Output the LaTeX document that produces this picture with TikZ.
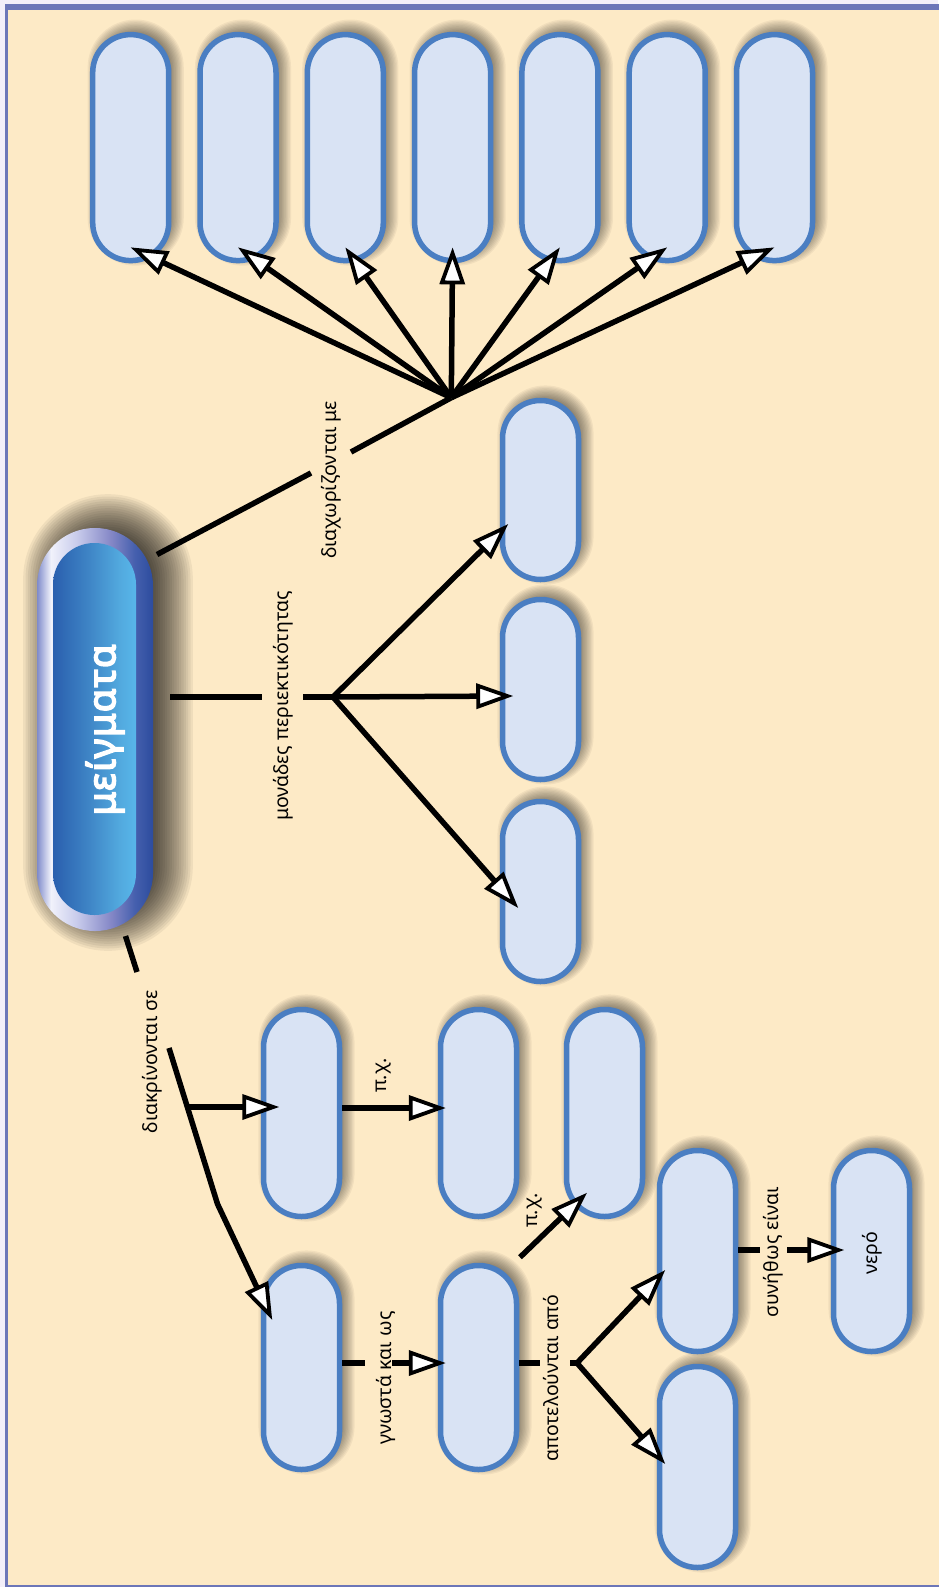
\documentclass[tikz,border=0pt]{standalone}
\usepackage{fontspec}
\newfontfamily\labfont{Noto Sans}
\newfontfamily\titlefont{Noto Sans}[FakeBold=4,LetterSpace=4]
\usetikzlibrary{arrows.meta,calc}

\definecolor{outerbg}{HTML}{F3EFF9}
\definecolor{framecol}{HTML}{6C76B8}
\definecolor{cream}{HTML}{FDEAC6}
\definecolor{pillfill}{HTML}{D9E3F4}
\definecolor{pillline}{HTML}{4A7EC2}
\definecolor{rimA}{HTML}{7F8BCB}
\definecolor{rimB}{HTML}{F1F2FB}
\definecolor{rimC}{HTML}{C9CCEC}
\definecolor{rimD}{HTML}{8487C6}
\definecolor{rimE}{HTML}{4660AE}
\definecolor{rimF}{HTML}{2C4C9E}
\definecolor{coreA}{HTML}{2A5FAE}
\definecolor{coreB}{HTML}{3D82C4}
\definecolor{coreC}{HTML}{52A9DE}
\definecolor{coreD}{HTML}{58B6EA}

\pgfdeclarehorizontalshading{rimshade}{100bp}{color(0bp)=(rimA); color(25bp)=(rimA); color(31bp)=(rimB); color(42bp)=(rimC); color(57bp)=(rimD); color(67bp)=(rimE); color(75bp)=(rimF); color(100bp)=(rimF)}
\pgfdeclarehorizontalshading{coreshade}{100bp}{color(0bp)=(coreA); color(25bp)=(coreA); color(45bp)=(coreB); color(65bp)=(coreC); color(75bp)=(coreD); color(100bp)=(coreD)}

\pgfdeclarelayer{paper}
\pgfdeclarelayer{shadelayer}
\pgfsetlayers{paper,shadelayer,main}

% soft drop shadow behind a stadium-shaped node:
% #1 node, #2 width, #3 height, #4 dx, #5 dy, #6 spread, #7 steps, #8 opacity per step
\newcommand\castshadow[8]{%
  \foreach \k in {1,...,#7}{%
    \pgfmathsetmacro\sx{#2/2+#6*(1-2*(\k-0.5)/#7)}%
    \pgfmathsetmacro\sy{#3/2+#6*(1-2*(\k-0.5)/#7)}%
    \pgfmathsetmacro\rr{\sx-0.05}%
    \fill[black, opacity=#8, rounded corners=\rr pt]
      ($(#1.center)+(#4-\sx,#5-\sy)$) rectangle ($(#1.center)+(#4+\sx,#5+\sy)$);
  }}

\begin{document}
\begin{tikzpicture}[x=1pt,y=-1pt,
  pill/.style={draw=pillline, line width=5.5pt, fill=pillfill, rounded corners=37.9pt,
    minimum width=76pt, inner sep=0pt},
  conn/.style={line width=5.5pt},
  arr/.style={conn, -{Triangle[length=37pt, width=25pt, fill=white, line width=3.8pt]}},
  lab/.style={rotate=90, font=\labfont\fontsize{19.5}{22}\selectfont, inner sep=0pt},
  labbox/.style={lab, fill=cream, rounded corners=5pt, inner xsep=8pt, inner ysep=5pt}]

\useasboundingbox (0,0) rectangle (938,1587);
% page, frame and paper
\begin{pgfonlayer}{paper}
\fill[outerbg] (0,0) rectangle (938,1587);
\fill[framecol] (4.7,4) rectangle (945,1592);
\fill[cream] (8,10) rectangle (945,1585.3);
\end{pgfonlayer}

% central concept
\node[shade, shading=rimshade, rounded corners=57.9pt, minimum width=116pt, minimum height=403pt, inner sep=0pt] (mg) at (95,729.5) {};
\node[shade, shading=coreshade, rounded corners=41.4pt, minimum width=83pt, minimum height=372pt, inner sep=0pt] (mgcore) at (94.5,729) {};
\node[rotate=90, text=white, font=\titlefont\fontsize{38}{44}\selectfont, inner sep=0pt] (mgtext) at (105,730) {μείγματα};

% separation methods row
\foreach \i in {1,...,7}
  \node[pill, minimum height=226pt] (t\i) at ({130.7+107.3*(\i-1)},147.6) {};

% concentration units
\node[pill, minimum height=179pt] (m1) at (540.5,490) {};
\node[pill, minimum height=180pt] (m2) at (540.5,689.5) {};
\node[pill, minimum height=180pt] (m3) at (540.5,891.5) {};

% kinds of mixtures
\node[pill, minimum height=207pt] (A) at (301.5,1113) {};
\node[pill, minimum height=204pt] (B) at (301.5,1367.5) {};
\node[pill, minimum height=207pt] (C) at (478.5,1113) {};
\node[pill, minimum height=204pt] (D) at (478.5,1367.5) {};
\node[pill, minimum height=207pt] (E) at (604.5,1113) {};
\node[pill, minimum height=201pt] (F) at (697.5,1251) {};
\node[pill, minimum height=201pt] (G) at (697.5,1467) {};
\node[pill, minimum height=201pt] (H) at (871.5,1251) {};

% shadows under all boxes
\begin{pgfonlayer}{shadelayer}
\castshadow{mg}{116}{403}{13}{-7}{28}{24}{0.055}
\foreach \i in {1,...,7} {\castshadow{t\i}{81.5}{231.5}{5}{-5}{8}{12}{0.048}}
\castshadow{m1}{81.5}{184.5}{5}{-5}{8}{12}{0.048}
\castshadow{m2}{81.5}{185.5}{5}{-5}{8}{12}{0.048}
\castshadow{m3}{81.5}{185.5}{5}{-5}{8}{12}{0.048}
\castshadow{A}{81.5}{212.5}{5}{-5}{8}{12}{0.048}
\castshadow{B}{81.5}{209.5}{5}{-5}{8}{12}{0.048}
\castshadow{C}{81.5}{212.5}{5}{-5}{8}{12}{0.048}
\castshadow{D}{81.5}{209.5}{5}{-5}{8}{12}{0.048}
\castshadow{E}{81.5}{212.5}{5}{-5}{8}{12}{0.048}
\castshadow{F}{81.5}{206.5}{5}{-5}{8}{12}{0.048}
\castshadow{G}{81.5}{206.5}{5}{-5}{8}{12}{0.048}
\castshadow{H}{81.5}{206.5}{5}{-5}{8}{12}{0.048}
\end{pgfonlayer}

% link labels
\node[lab] (l1) at (331,480) {διαχωρίζονται με};
\node[lab] (l2) at (283.5,706) {μονάδες περιεκτικότητας};
\node[lab] (l3) at (152,1062) {διακρίνονται σε};
\node[lab] (l4) at (383.5,1075.5) {π.χ.};
\node[labbox] (l5) at (386,1378) {γνωστά και ως};
\node[lab] (l6) at (534.5,1210.5) {π.χ.};
\node[labbox] (l7) at (551,1378) {αποτελούνται από};
\node[labbox] (l8) at (773,1252) {συνήθως είναι};
\node[lab] (l9) at (872,1253) {νερό};

% connectors: separation methods
\coordinate (s1) at (157,554.5);
\coordinate (g1a) at (311,473);
\coordinate (g1b) at (351,452);
\coordinate (h1) at (451.3,397.7);
\draw[conn] (s1) -- (g1a) (g1b) -- (h1);
\foreach \i in {1,...,7}
  \draw[arr] (h1) -- ($(t\i.south)+(0,-16)$);

% connectors: concentration units
\coordinate (s2) at (170,697);
\coordinate (g2a) at (262,697);
\coordinate (g2b) at (303,697);
\coordinate (h2) at (333,697);
\draw[conn] (s2) -- (g2a) (g2b) -- (h2);
\draw[arr] (h2) -- ($(m1.west)+(8.5,34)$);
\draw[arr] (h2) -- ($(m2.west)+(13.5,6.5)$);
\draw[arr] (h2) -- ($(m3.west)+(18.5,16.5)$);

% connectors: kinds of mixtures
\coordinate (s3) at (125.5,936);
\coordinate (g3a) at (137,972);
\coordinate (g3b) at (169,1048);
\coordinate (k3) at (217.5,1204);
\coordinate (b3) at (187,1107);
\draw[conn] (s3) -- (g3a);
\draw[arr] (g3b) -- (k3) -- ($(B.west)+(11.5,-47.5)$);
\draw[arr] (b3) -- ($(A.west)+(18.5,-6)$);

\draw[arr] ($(A.east)+(0,-5)$) -- ($(C.west)+(8,-5)$);

\coordinate (g4a) at (365,1363);
\coordinate (g4b) at (392,1363);
\draw[conn] ($(B.east)+(0,-4.5)$) -- (g4a);
\draw[arr] (g4b) -- ($(D.west)+(8,-4.5)$);

\draw[arr] ($(D.north)+(41.5,-5.5)$) -- ($(E.south)+(-17.5,-26.5)$);

\coordinate (g5a) at (540,1363);
\coordinate (g5b) at (570,1363);
\coordinate (h5) at (577,1363);
\draw[conn] ($(D.east)+(0,-4.5)$) -- (g5a) (g5b) -- (h5);
\draw[arr] (h5) -- ($(F.west)+(8.5,19)$);
\draw[arr] (h5) -- ($(G.west)+(8.5,-3)$);

\coordinate (g6a) at (760,1250);
\coordinate (g6b) at (787,1250);
\draw[conn] ($(F.east)+(0,-1)$) -- (g6a);
\draw[arr] (g6b) -- ($(H.west)+(13.5,-1)$);
\end{tikzpicture}
\end{document}
